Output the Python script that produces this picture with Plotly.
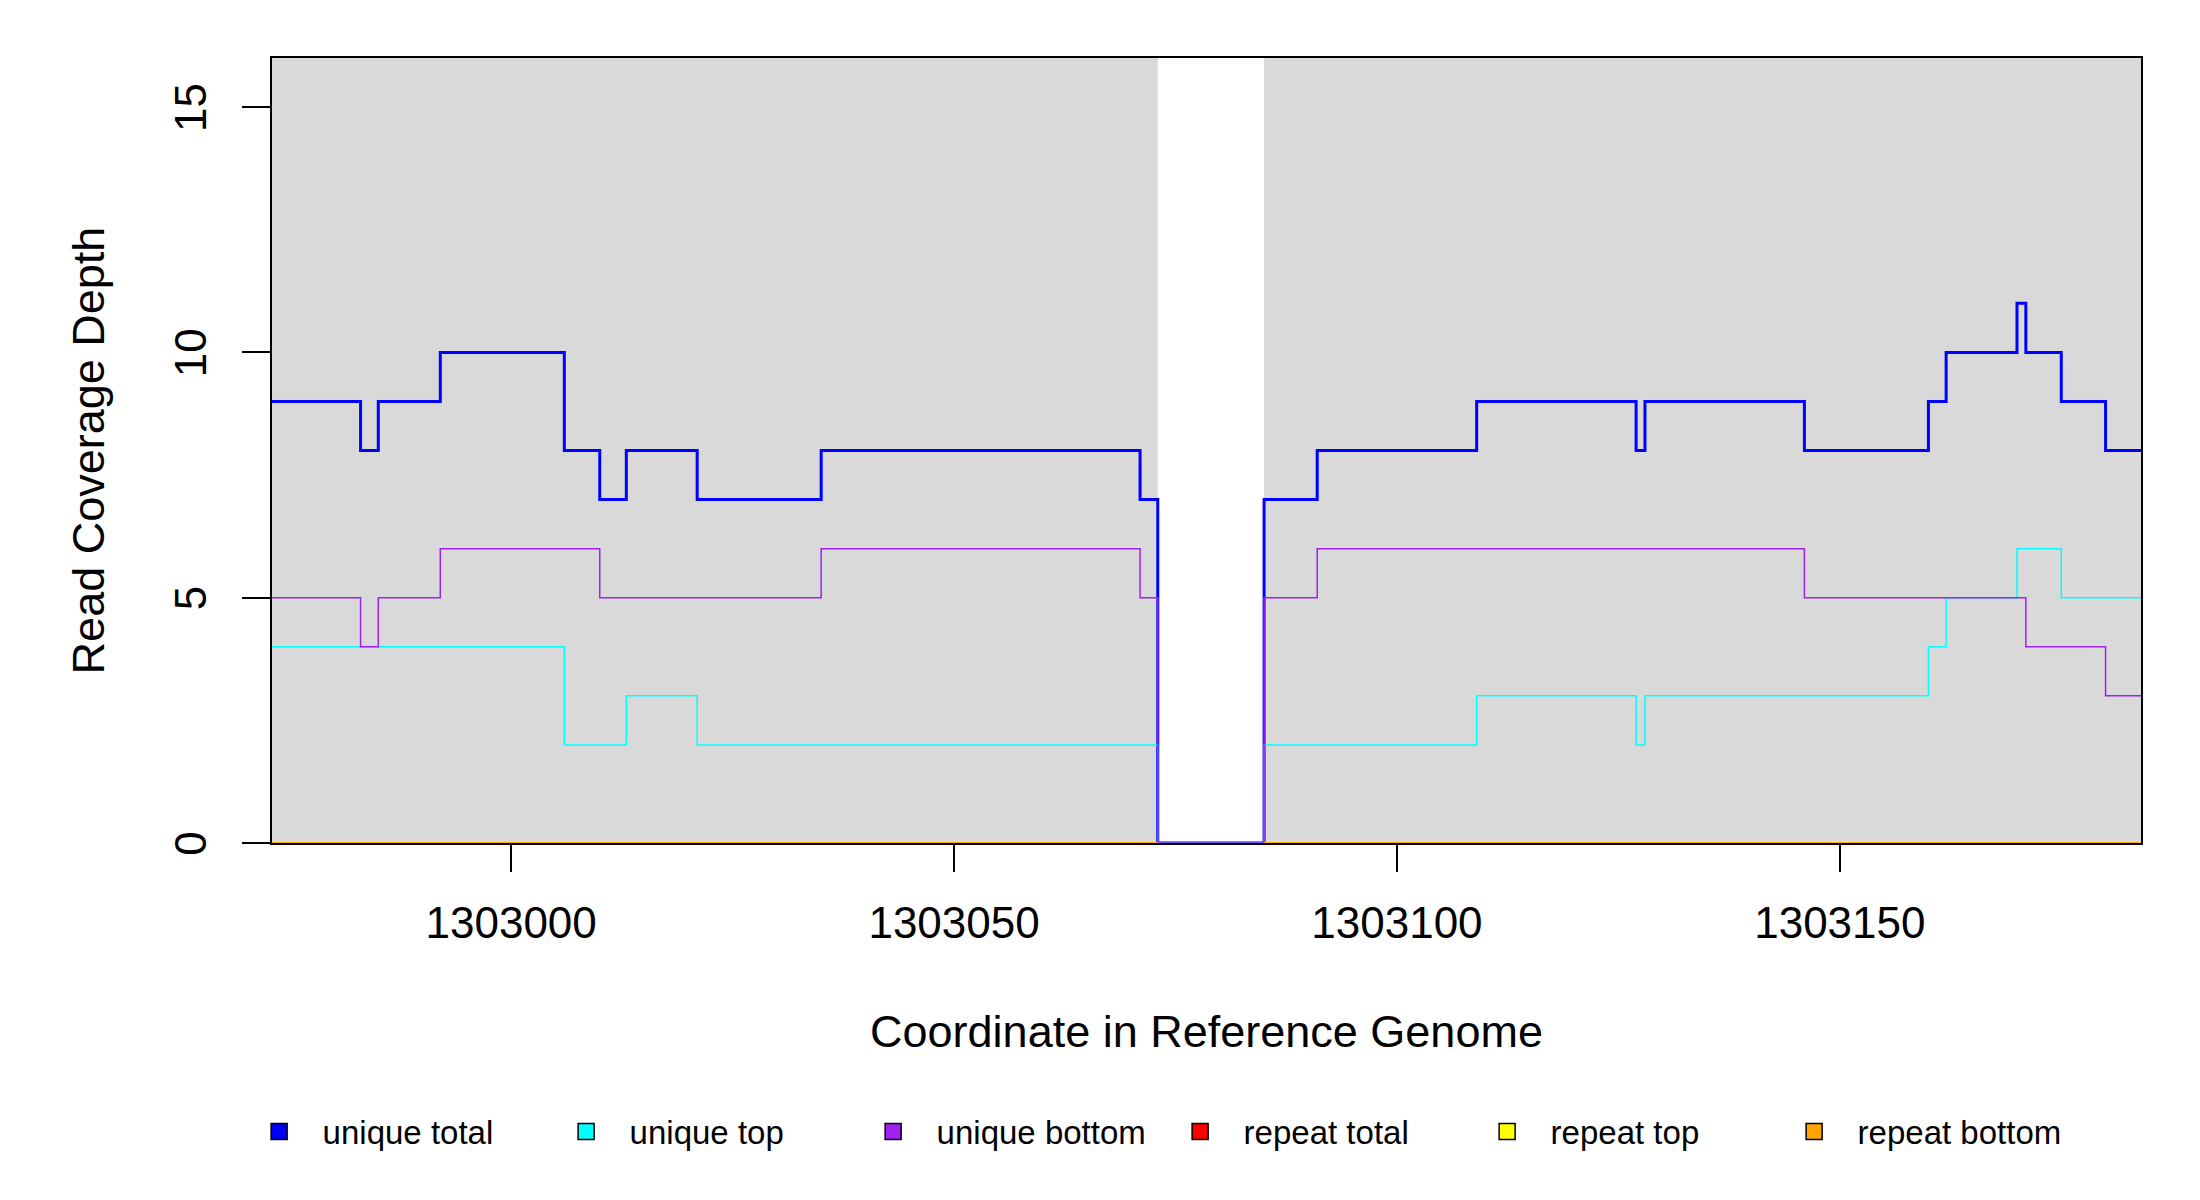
import plotly.graph_objects as go

# coverage steps, value holds from each position to the next
positions = [1302973, 1302983, 1302985, 1302992, 1303006, 1303010, 1303013, 1303021,
             1303035, 1303071, 1303073, 1303085, 1303091, 1303109, 1303127, 1303128,
             1303146, 1303160, 1303162, 1303170, 1303171, 1303175, 1303180, 1303184]
unique_total = [9, 8, 9, 10, 8, 7, 8, 7, 8, 7, 0, 7, 8, 9, 8, 9, 8, 9, 10, 11, 10, 9, 8, 8]
unique_top = [4, 4, 4, 4, 2, 2, 3, 2, 2, 2, 0, 2, 2, 3, 2, 3, 3, 4, 5, 6, 6, 5, 5, 5]
unique_bottom = [5, 4, 5, 6, 6, 5, 5, 5, 6, 5, 0, 5, 6, 6, 6, 6, 5, 5, 5, 5, 4, 4, 3, 3]

# repeat coverage is zero, with no data inside the gap
repeat_pos = [1302973, 1303073, None, 1303085, 1303184]
repeat_total = [0, 0, None, 0, 0]
repeat_top = [0, 0, None, 0, 0]
repeat_bottom = [0, 0, None, 0, 0]

gap_start, gap_end = 1303073, 1303085
x_ticks = [1303000, 1303050, 1303100, 1303150]
y_ticks = [0, 5, 10, 15]

series = [
    ("unique total", positions, unique_total, "#0000FF", 3),
    ("unique top", positions, unique_top, "#00FFFF", 1.5),
    ("unique bottom", positions, unique_bottom, "#A020F0", 1.5),
    ("repeat total", repeat_pos, repeat_total, "#FF0000", 1.5),
    ("repeat top", repeat_pos, repeat_top, "#FFFF00", 1.5),
    ("repeat bottom", repeat_pos, repeat_bottom, "#FFA500", 1.5),
]

fig = go.Figure()
for name, xs, ys, col, w in series:
    fig.add_trace(go.Scatter(x=xs, y=ys, mode="lines", line_shape="hv",
                             line=dict(color=col, width=w), showlegend=False,
                             hoverinfo="skip"))

# legend boxes like R's fill legend
for name, xs, ys, col, w in series:
    fig.add_trace(go.Scatter(x=[None], y=[None], mode="markers", name=name,
                             marker=dict(symbol="square", size=24, color=col,
                                         line=dict(color="black", width=1.5))))

fig.add_shape(type="rect", x0=gap_start, x1=gap_end, y0=0, y1=16,
              fillcolor="white", line_width=0, layer="below")

font = "Liberation Sans, Arial, sans-serif"
fig.update_layout(
    width=2200, height=1200,
    margin=dict(l=272, r=59, t=58, b=357),
    paper_bgcolor="white", plot_bgcolor="#D9D9D9",
    font=dict(family=font, size=44, color="black"),
    legend=dict(orientation="h", xref="container", yref="container",
                x=0.1071, y=0.057, xanchor="left", yanchor="middle",
                itemwidth=77, entrywidth=215, entrywidthmode="pixels",
                itemsizing="trace",
                font=dict(size=33), bgcolor="rgba(0,0,0,0)"),
)
fig.update_xaxes(range=[1302973, 1303184], tickvals=x_ticks, tickformat="d",
                 ticks="outside", ticklen=27, tickwidth=1.5, tickcolor="black",
                 ticklabelstandoff=13,
                 showline=True, mirror=True, linecolor="black", linewidth=1.5,
                 showgrid=False, zeroline=False,
                 title=dict(text="Coordinate in Reference Genome", standoff=70,
                            font=dict(size=45)))
fig.update_yaxes(range=[0, 16], tickvals=y_ticks, tickangle=-90,
                 ticks="outside", ticklen=28, tickwidth=1.5, tickcolor="black",
                 ticklabelstandoff=19, ticklabelshift=7,
                 showline=True, mirror=True, linecolor="black", linewidth=1.5,
                 showgrid=False, zeroline=False,
                 title=dict(text="Read Coverage Depth", standoff=47,
                            font=dict(size=45)))

fig.write_html("out.html", config={"displayModeBar": False},
               post_script="document.body.style.margin='0';")
